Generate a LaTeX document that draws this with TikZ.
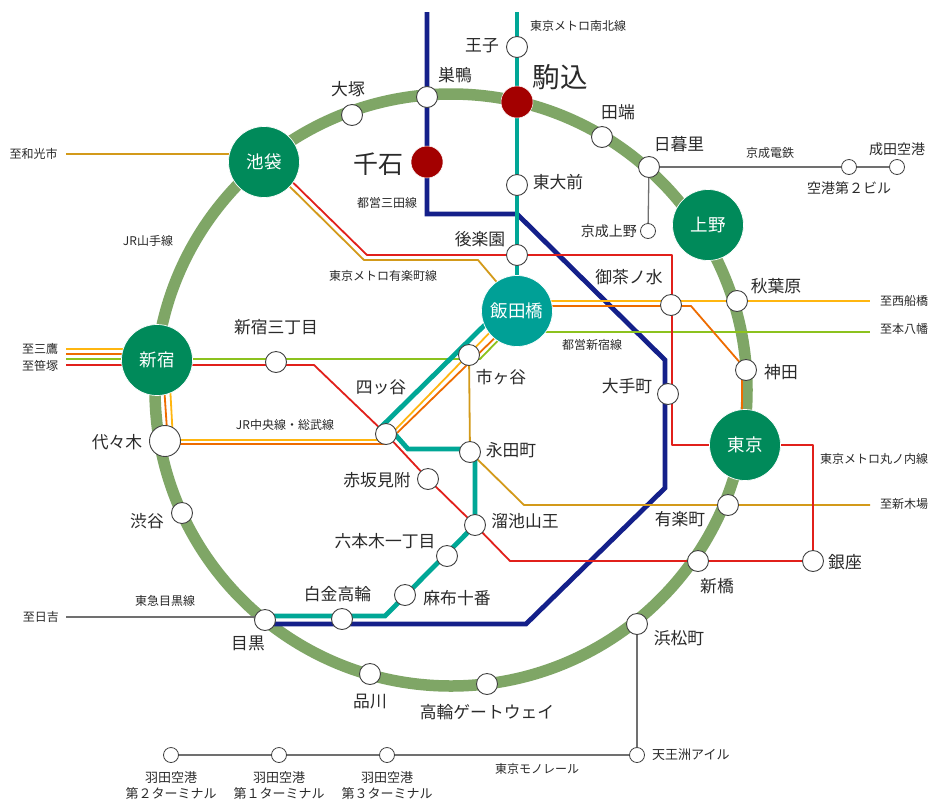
\documentclass[tikz,border=0pt]{standalone}
\usepackage{fontspec}
\setmainfont{Noto Sans CJK JP}
\usetikzlibrary{backgrounds,calc}
\definecolor{ringc}{HTML}{7FA666}
\definecolor{hubg}{HTML}{008A5A}
\definecolor{hubt}{HTML}{00A096}
\definecolor{dred}{HTML}{A30000}
\definecolor{nbt}{HTML}{00A796}
\definecolor{navy}{HTML}{14208A}
\definecolor{redl}{HTML}{E1201B}
\definecolor{gold}{HTML}{D39A1A}
\definecolor{yel}{HTML}{FFB610}
\definecolor{org}{HTML}{EE6C00}
\definecolor{grn}{HTML}{8CC21E}
\definecolor{gry}{HTML}{707070}
\definecolor{txt}{HTML}{2A2A2A}
\tikzset{
 st/.style={circle,draw=black!75,line width=0.9pt,fill=white,inner sep=0pt,minimum size=21pt},
 sm/.style={circle,draw=black!75,line width=0.8pt,fill=white,inner sep=0pt,minimum size=15pt},
 hub/.style={circle,draw=white,line width=0.7pt,inner sep=0pt,minimum size=71pt,text=white,font=\fontsize{17.5}{17.5}\selectfont},
 big/.style={circle,fill=dred,draw=white,line width=0.5pt,inner sep=0pt,minimum size=32pt},
 lb/.style={text=txt,inner sep=0pt,font=\fontsize{16.8}{16.8}\selectfont},
 lbb/.style={text=txt,inner sep=0pt,font=\fontsize{25}{25}\selectfont},
 lbx/.style={text=txt,inner sep=0pt,font=\fontsize{27.5}{27.5}\selectfont},
 lbm/.style={text=txt,inner sep=0pt,font=\fontsize{13}{13}\selectfont,align=center},
 lbn/.style={text=txt,inner sep=0pt,font=\fontsize{14}{14}\selectfont},
 lbs/.style={text=txt,inner sep=0pt,font=\fontsize{12}{12}\selectfont},
 thin1/.style={line width=1.8pt,line join=round},
 gr1/.style={line width=1.3pt,gry},
 thick1/.style={line width=4.8pt,line join=miter},
}
\begin{document}
\begin{tikzpicture}[x=1pt,y=-1pt]
\useasboundingbox (0,0) rectangle (940,807);
% stations
\node[st] (oji) at (517,47) {};
\node[big] (koma) at (517,102) {};
\node[st] (suga) at (427,97) {};
\node[big] (sengoku) at (427,162) {};
\node[st] (todai) at (517,185) {};
\node[st] (kora) at (517,255) {};
\node[hub,fill=hubt] (iida) at (517,311) {飯田橋};
\node[st] (otsuka) at (352,115) {};
\node[hub,fill=hubg] (ike) at (264,162) {池袋};
\node[st] (tabata) at (602,137) {};
\node[st] (nippori) at (649,167) {};
\node[hub,fill=hubg] (ueno) at (708,225) {上野};
\node[st] (aki) at (737,301) {};
\node[st] (ocha) at (671,305) {};
\node[st] (kanda) at (746,370) {};
\node[st] (ote) at (668,394) {};
\node[hub,fill=hubg] (tokyo) at (745,445) {東京};
\node[st] (yura) at (728,505) {};
\node[st] (shinb) at (698,561) {};
\node[st] (ginza) at (813,561) {};
\node[st] (hama) at (637,624) {};
\node[st] (tgw) at (487,684) {};
\node[st] (shina) at (370,674) {};
\node[st] (meguro) at (265,620) {};
\node[st] (shiro) at (342,619) {};
\node[st] (azabu) at (405,595) {};
\node[st] (roppon) at (447,556) {};
\node[st] (tame) at (475,525) {};
\node[st] (aka) at (428,479) {};
\node[st] (naga) at (470,452) {};
\node[st] (yotsu) at (386,434) {};
\node[st] (ichi) at (469,355) {};
\node[st] (san) at (276,362) {};
\node[hub,fill=hubg] (shinj) at (157,360) {新宿};
\node[st,minimum size=31pt] (yoyo) at (165,441) {};
\node[st] (shibu) at (182,513) {};
\node[sm] (keisei) at (648,231) {};
\node[sm] (t2) at (849,167) {};
\node[sm] (nari) at (897,167) {};
\node[sm] (h2) at (171,755) {};
\node[sm] (h1) at (279,755) {};
\node[sm] (h3) at (387,755) {};
\node[sm] (tennoz) at (637,755) {};
% free ends and bends
\coordinate (nbTop) at (517,12);
\coordinate (miTop) at (427,12);
\coordinate (mi1) at (427,214);
\coordinate (mi2) at (517,214);
\coordinate (mi3) at (665,360);
\coordinate (mi4) at (665,488);
\coordinate (mi5) at (526,624);
\coordinate (mi6) at (265,624);
\coordinate (nb0) at (392,431);
\coordinate (nb1) at (408,449);
\coordinate (nb2) at (475,449);
\coordinate (nb3) at (475,525);
\coordinate (nb4) at (385,616);
\coordinate (nb5) at (265,616);
\coordinate (nbY) at (378,430);
\coordinate (nbI) at (505,305);
\coordinate (re0) at (272,162);
\coordinate (re1) at (367,255);
\coordinate (re2) at (672,255);
\coordinate (re3) at (672,445);
\coordinate (re4) at (813,445);
\coordinate (rw) at (66,365);
\coordinate (rs) at (156,365);
\coordinate (r3) at (276,365);
\coordinate (r4) at (314,365);
\coordinate (r5) at (510,561);
\coordinate (go1) at (66,154);
\coordinate (goIk) at (264,154);
\coordinate (go0) at (272,169);
\coordinate (go2) at (364,260);
\coordinate (go3) at (478,260);
\coordinate (go4) at (517,306);
\coordinate (go5) at (524,505);
\coordinate (go6) at (870,505);
\coordinate (yw) at (66,349);
\coordinate (ys) at (156,349);
\coordinate (ow) at (66,354);
\coordinate (os) at (156,354);
\coordinate (gw) at (66,359);
\coordinate (gi) at (480,359);
\coordinate (gi2) at (517,321);
\coordinate (ge) at (870,332);
\coordinate (gf) at (517,332);
\coordinate (ys2) at (170,385);
\coordinate (yy1) at (173,440);
\coordinate (yy2) at (385,440);
\coordinate (os2) at (164,385);
\coordinate (oy0) at (167,430);
\coordinate (oy1) at (167,444);
\coordinate (oy2) at (385,444);
\coordinate (yi1) at (395,430);
\coordinate (yi2) at (500,322);
\coordinate (oi1) at (397,433);
\coordinate (oi2) at (505,328);
\coordinate (y3) at (517,301);
\coordinate (y4) at (870,301);
\coordinate (o3) at (517,306);
\coordinate (o4) at (691,306);
\coordinate (o5) at (742,365);
\coordinate (o6) at (742,420);
\coordinate (gm) at (66,617);
\coordinate (gme) at (265,617);
% lines
\begin{scope}[on background layer]
\fill[white] (0,0) rectangle (940,807);
\draw[ringc,line width=11.5pt] (451,390) circle (296pt);
\draw[gr1] (gm) -- (gme);
\draw[gr1] (nippori) -- (t2) -- (nari);
\draw[gr1] (nippori.center) -- (keisei);
\draw[gr1] (hama) -- (tennoz);
\draw[gr1] (tennoz) -- (h3) -- (h1) -- (h2);
\draw[thick1,navy] (miTop) -- (mi1) -- (mi2) -- (mi3) -- (mi4) -- (mi5) -- (mi6);
\draw[thin1,gold] (go1) -- (goIk);
\draw[thin1,gold] (go0) -- (go2) -- (go3) -- (go4);
\draw[thin1,gold] (ichi.center) -- (naga.center) -- (go5) -- (go6);
\draw[thin1,grn] (gw) -- (gi) -- (gi2);
\draw[thin1,grn] (gf) -- (ge);
\draw[thin1,yel] (yw) -- (ys);
\draw[thin1,org] (ow) -- (os);
\draw[thin1,redl] (rw) -- (rs) -- (r3) -- (r4) -- (yotsu.center) -- (aka.center) -- (tame.center) -- (r5) -- (ginza.center);
\draw[thin1,redl] (re0) -- (re1) -- (re2) -- (re3) -- (re4) -- (ginza.center);
\draw[thin1,yel] (ys2) -- (yy1) -- (yy2);
\draw[thin1,org] (os2) -- (oy0) -- (oy1) -- (oy2);
\draw[thin1,yel] (yi1) -- (yi2);
\draw[thin1,org] (oi1) -- (oi2);
\draw[thin1,yel] (y3) -- (y4);
\draw[thin1,org] (o3) -- (o4) -- (o5) -- (o6);
\draw[line width=4.6pt,nbt] (nbTop) -- (iida.center);
\draw[line width=4.8pt,nbt] (nbI) -- (nbY);
\draw[line width=4.8pt,nbt,line join=miter] (nb0) -- (nb1) -- (nb2) -- (nb3) -- (nb4) -- (nb5);
\end{scope}
% labels
\node[lbs] (l01) at (578,26) {東京メトロ南北線};
\node[lb] (l02) at (482,46) {王子};
\node[lbx] (l03) at (560,77) {駒込};
\node[lb] (l04) at (455,75) {巣鴨};
\node[lb] (l05) at (348,89) {大塚};
\node[lb] (l06) at (618,112) {田端};
\node[lb] (l07) at (679,144) {日暮里};
\node[lbs] (l08) at (770,153) {京成電鉄};
\node[lbn] (l09) at (849,188) {空港第２ビル};
\node[lbn] (l10) at (897,149) {成田空港};
\node[lbs] (l11) at (33.5,154) {至和光市};
\node[lbb] (l12) at (378,164) {千石};
\node[lbs] (l13) at (387,203) {都営三田線};
\node[lb] (l14) at (558,182) {東大前};
\node[lbs] (l15) at (148,241) {JR山手線};
\node[lb] (l16) at (480,239) {後楽園};
\node[lbn,anchor=east] (l17) at (637,231) {京成上野};
\node[lbs] (l18) at (383,276) {東京メトロ有楽町線};
\node[lb] (l19) at (629,277) {御茶ノ水};
\node[lb] (l20) at (776,286) {秋葉原};
\node[lbs] (l21) at (904,301) {至西船橋};
\node[lbs] (l22) at (904,329) {至本八幡};
\node[lbs] (l23) at (592,345) {都営新宿線};
\node[lb] (l24) at (276,327) {新宿三丁目};
\node[lbs] (l25) at (40,349) {至三鷹};
\node[lbs] (l26) at (40,366) {至笹塚};
\node[lb] (l27) at (381,387) {四ッ谷};
\node[lb] (l28) at (501,377) {市ヶ谷};
\node[lb] (l29) at (627,386) {大手町};
\node[lb] (l30) at (781,372) {神田};
\node[lbs] (l31) at (285,425) {JR中央線・総武線};
\node[lbs] (l32) at (874,459) {東京メトロ丸ノ内線};
\node[lb] (l33) at (117,442) {代々木};
\node[lb] (l34) at (511,450) {永田町};
\node[lb] (l35) at (377,480) {赤坂見附};
\node[lbs] (l36) at (904,504) {至新木場};
\node[lb] (l37) at (680,519) {有楽町};
\node[lb] (l38) at (147,521) {渋谷};
\node[lb] (l39) at (525,521) {溜池山王};
\node[lb] (l40) at (385,541) {六本木一丁目};
\node[lb] (l41) at (717,586) {新橋};
\node[lb] (l42) at (845,562) {銀座};
\node[lb] (l43) at (337.5,594) {白金高輪};
\node[lb] (l44) at (457,598) {麻布十番};
\node[lbs] (l45) at (165,601) {東急目黒線};
\node[lbs] (l46) at (41,617) {至日吉};
\node[lb] (l47) at (248,643) {目黒};
\node[lb] (l48) at (679,638) {浜松町};
\node[lb] (l49) at (370,702) {品川};
\node[lb] (l50) at (487,712) {高輪ゲートウェイ};
\node[lbm,anchor=west] (l51) at (652,755) {天王洲アイル};
\node[lbs] (l52) at (537,769) {東京モノレール};
\node[lbm] (l53) at (171,785.5) {羽田空港\\[3pt]第２ターミナル};
\node[lbm] (l54) at (279,785.5) {羽田空港\\[3pt]第１ターミナル};
\node[lbm] (l55) at (387,785.5) {羽田空港\\[3pt]第３ターミナル};
\end{tikzpicture}
\end{document}
